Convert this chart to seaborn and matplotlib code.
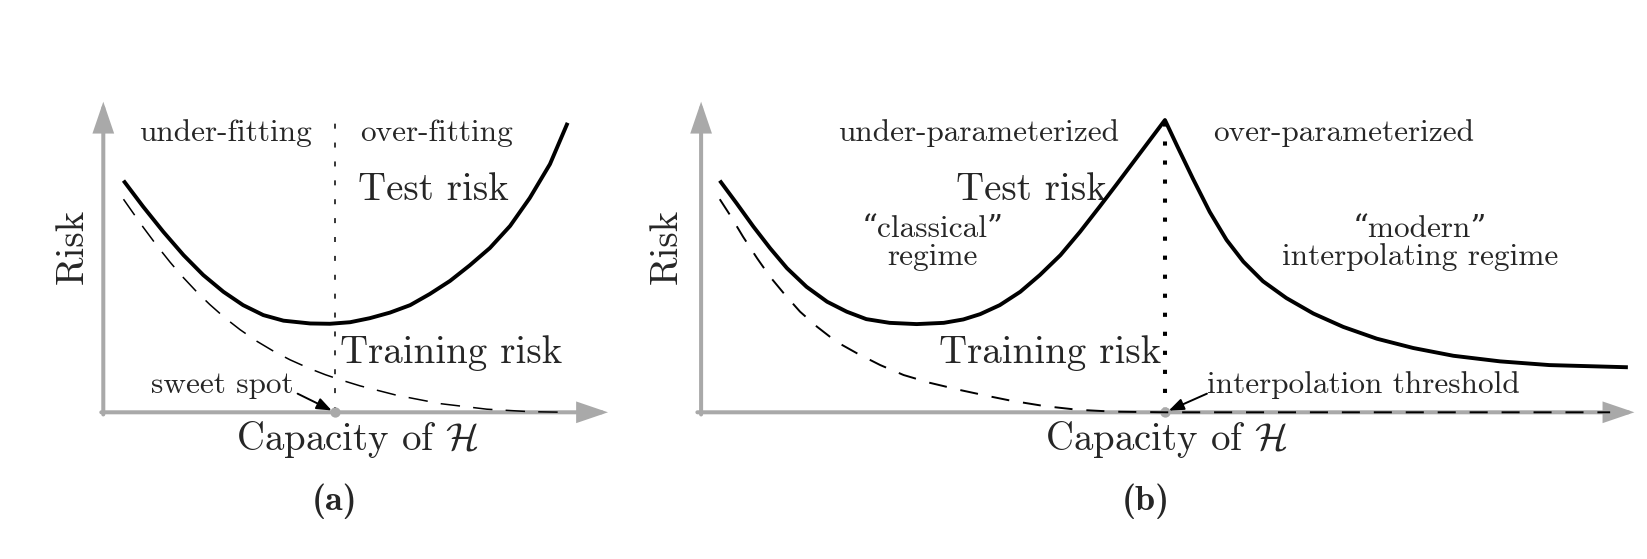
import matplotlib
matplotlib.use("Agg")
import matplotlib.pyplot as plt
import seaborn as sns
import pandas as pd

# ---------------- data ----------------
# Panel (a): classical U-shaped risk curve
a_test_x = [0.40, 0.79, 1.19, 1.59, 1.98, 2.38, 2.77, 3.17, 3.57, 4.10, 4.49, 4.89, 5.28, 5.68,
            6.08, 6.47, 6.87, 7.26, 7.66, 8.06, 8.45, 8.85, 9.20]
a_test_y = [7.46, 6.62, 5.81, 5.06, 4.42, 3.88, 3.45, 3.13, 2.95, 2.86, 2.85, 2.90, 3.03, 3.21,
            3.45, 3.81, 4.23, 4.73, 5.29, 6.00, 6.90, 7.99, 9.32]
a_train_x = [0.40, 0.59, 0.79, 1.06, 1.32, 1.55, 1.85, 2.11, 2.41, 2.71, 3.04, 3.37, 3.70, 4.10,
             4.40, 4.69, 5.09, 5.81, 6.67, 7.60, 8.45, 9.20]
a_train_y = [6.86, 6.42, 5.96, 5.37, 4.84, 4.40, 3.88, 3.47, 3.04, 2.66, 2.29, 1.97, 1.69, 1.40,
             1.21, 1.05, 0.85, 0.55, 0.28, 0.10, 0.02, 0.00]
a_sweet_spot = 4.60
a_divider_top = 9.52

# Panel (b): double descent risk curve
b_test_x = [0.20, 0.38, 0.56, 0.74, 0.92, 1.13, 1.35, 1.56, 1.77, 2.02, 2.31, 2.60, 2.81, 2.99,
            3.20, 3.42, 3.63, 3.85, 4.06, 4.27, 4.45, 4.63, 4.81, 4.97, 5.10, 5.27, 5.45, 5.63,
            5.81, 6.02, 6.27, 6.56, 6.88, 7.24, 7.63, 8.06, 8.56, 9.09, 9.93]
b_test_y = [7.46, 6.73, 5.98, 5.28, 4.64, 4.04, 3.56, 3.24, 3.00, 2.88, 2.84, 2.88, 2.99, 3.16,
            3.45, 3.88, 4.42, 5.06, 5.81, 6.62, 7.33, 8.05, 8.77, 9.41, 8.58, 7.52, 6.45, 5.55,
            4.85, 4.22, 3.68, 3.18, 2.75, 2.37, 2.07, 1.82, 1.64, 1.52, 1.45]
b_train_x = [0.20, 0.31, 0.45, 0.60, 0.74, 0.90, 1.06, 1.24, 1.45, 1.67, 1.92, 2.17, 2.45, 2.77,
             3.08, 3.31, 3.68, 4.04, 4.43, 4.97, 9.74]
b_train_y = [6.86, 6.35, 5.65, 4.96, 4.36, 3.78, 3.24, 2.76, 2.27, 1.90, 1.52, 1.20, 0.95, 0.72,
             0.52, 0.38, 0.20, 0.08, 0.02, 0.00, 0.00]
b_threshold = 4.97
b_divider_top = 9.41

axis_end = 10.0

# labels
a_top_labels = ["under-fitting", "over-fitting"]
b_top_labels = ["under-parameterized", "over-parameterized"]
curve_labels = ["Test risk", "Training risk"]
x_label = r"Capacity of $\mathcal{H}$"
y_label = "Risk"
panel_labels = ["(a)", "(b)"]

# ---------------- style ----------------
sns.set_theme(style="white")
plt.rcParams["mathtext.fontset"] = "cm"
plt.rcParams["lines.scale_dashes"] = False
plt.rcParams["axes.unicode_minus"] = False
SERIF = ["cmr10", "DejaVu Serif"]
BOLD = ["cmb10", "DejaVu Serif"]
plt.rcParams["font.family"] = SERIF

GRAY = "#a9a9a9"
BIG = 28
SMALL = 22.5

W, H = 1647, 559
fig = plt.figure(figsize=(W / 100, H / 100), dpi=100)
fig.patch.set_facecolor("white")

axA = fig.add_axes([103.3 / W, (H - 412.3) / H, 504.7 / W, 310.6 / H])
axB = fig.add_axes([701.1 / W, (H - 412.3) / H, 933.3 / W, 310.6 / H])


def draw_axes_arrows(ax):
    for start, end in [((-0.04, 0), (axis_end, 0)), ((0, -0.07), (0, axis_end))]:
        ax.annotate("", xy=end, xytext=start, xycoords="data", textcoords="data",
                    arrowprops=dict(arrowstyle="-|>,head_length=17,head_width=5.8",
                                    mutation_scale=1, lw=2.9, color=GRAY,
                                    shrinkA=0, shrinkB=0, joinstyle="miter"),
                    annotation_clip=False, zorder=1)


def setup(ax):
    ax.set_xlim(0, axis_end)
    ax.set_ylim(0, axis_end)
    ax.axis("off")


def line(ax, x, y, lw, dashes=None, zorder=3):
    sns.lineplot(x=x, y=y, ax=ax, color="black", lw=lw, sort=False, estimator=None,
                 zorder=zorder, solid_capstyle="butt")
    ln = ax.lines[-1]
    if dashes is not None:
        ln.set_dashes(dashes)
        ln.set_dash_capstyle("butt")
    return ln


# ---------------- panel (a) ----------------
setup(axA)
draw_axes_arrows(axA)
line(axA, a_test_x, a_test_y, 2.8, zorder=4)
line(axA, a_train_x, a_train_y, 1.1, dashes=[14, 9.5])
line(axA, [a_sweet_spot, a_sweet_spot], [0, a_divider_top], 1.1, dashes=[3.6, 10], zorder=2)
axA.scatter([a_sweet_spot], [0], s=55, color=GRAY, zorder=5, linewidths=0)

axA.text(2.42, 8.74, a_top_labels[0], ha="center", va="baseline", fontsize=SMALL)
axA.text(6.60, 8.74, a_top_labels[1], ha="center", va="baseline", fontsize=SMALL)
axA.text(6.54, 6.84, curve_labels[0], ha="center", va="baseline", fontsize=BIG)
axA.text(6.90, 1.58, curve_labels[1], ha="center", va="baseline", fontsize=BIG)
axA.text(2.35, 0.63, "sweet spot", ha="center", va="baseline", fontsize=SMALL)
axA.annotate("", xy=(a_sweet_spot, 0), xytext=(3.85, 0.60),
             arrowprops=dict(arrowstyle="-|>,head_length=0.9,head_width=0.35",
                             mutation_scale=10, lw=1.4, color="black",
                             shrinkA=0, shrinkB=3), zorder=6, annotation_clip=False)
axA.text(5.03, -1.21, x_label, ha="center", va="baseline", fontsize=BIG)
axA.text(-0.61, 5.33, y_label, ha="center", va="center", rotation=90, fontsize=BIG)
axA.text(4.58, -2.85, panel_labels[0], ha="center", va="center", fontsize=26,
         family=BOLD)

# ---------------- panel (b) ----------------
setup(axB)
draw_axes_arrows(axB)
line(axB, b_test_x, b_test_y, 2.8, zorder=4)
line(axB, b_train_x, b_train_y, 1.4, dashes=[13, 10])
line(axB, [b_threshold, b_threshold], [0, b_divider_top], 2.9, dashes=[3, 10.7], zorder=2)
axB.scatter([b_threshold], [0], s=55, color=GRAY, zorder=2.5, linewidths=0)

axB.text(2.97, 8.74, b_top_labels[0], ha="center", va="baseline", fontsize=SMALL)
axB.text(6.88, 8.74, b_top_labels[1], ha="center", va="baseline", fontsize=SMALL)
axB.text(3.54, 6.84, curve_labels[0], ha="center", va="baseline", fontsize=BIG)
axB.text(2.48, 5.65, "\u201cclassical\u201d", ha="center", va="baseline", fontsize=SMALL)
axB.text(2.48, 4.74, "regime", ha="center", va="baseline", fontsize=SMALL)
axB.text(7.70, 5.65, "\u201cmodern\u201d", ha="center", va="baseline", fontsize=SMALL)
axB.text(7.70, 4.74, "interpolating regime", ha="center", va="baseline", fontsize=SMALL)
axB.text(3.74, 1.58, curve_labels[1], ha="center", va="baseline", fontsize=BIG)
axB.text(5.42, 0.63, "interpolation threshold", ha="left", va="baseline", fontsize=SMALL)
axB.annotate("", xy=(b_threshold, 0), xytext=(5.42, 0.60),
             arrowprops=dict(arrowstyle="-|>,head_length=0.9,head_width=0.35",
                             mutation_scale=10, lw=1.4, color="black",
                             shrinkA=0, shrinkB=3), zorder=6, annotation_clip=False)
axB.text(4.98, -1.21, x_label, ha="center", va="baseline", fontsize=BIG)
axB.text(-0.37, 5.33, y_label, ha="center", va="center", rotation=90, fontsize=BIG)
axB.text(4.77, -2.85, panel_labels[1], ha="center", va="center", fontsize=26,
         family=BOLD)

for ax in (axA, axB):
    for art in ax.get_children():
        try:
            art.set_clip_on(False)
        except Exception:
            pass

fig.savefig("out.png", dpi=100, facecolor="white")
